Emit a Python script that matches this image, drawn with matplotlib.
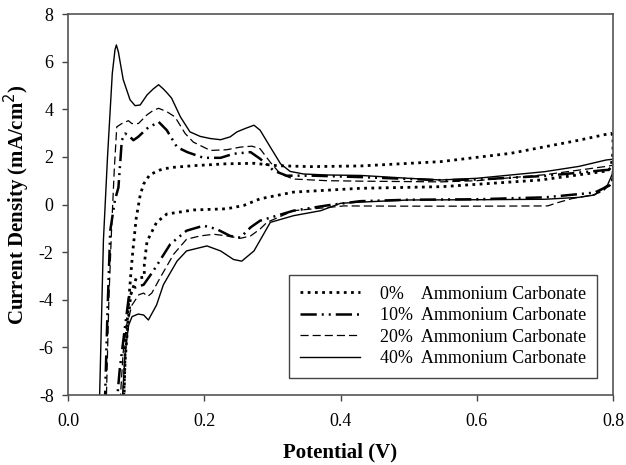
import matplotlib
matplotlib.use("Agg")
import matplotlib.pyplot as plt

plt.rcParams['font.family'] = ['Liberation Serif', 'DejaVu Serif']
plt.rcParams['axes.unicode_minus'] = False

# cyclic voltammograms, potential (V) vs current density (mA/cm2)
v_0 = [0.082, 0.084, 0.088, 0.092, 0.095, 0.100, 0.106, 0.111, 0.120, 0.135, 0.150, 0.184,
       0.233, 0.273, 0.307, 0.356, 0.430, 0.547, 0.650, 0.750, 0.797, 0.800,
       0.800, 0.797, 0.792, 0.694, 0.550, 0.429, 0.331, 0.282, 0.258, 0.233, 0.184,
       0.145, 0.130, 0.116, 0.112, 0.112, 0.100, 0.092, 0.088, 0.084, 0.081]
i_0 = [-8.5, -6.0, -4.5, -3.0, -2.0, -0.6, 0.4, 0.86, 1.25, 1.45, 1.55, 1.63,
       1.71, 1.73, 1.63, 1.59, 1.62, 1.80, 2.15, 2.70, 2.99, 2.90,
       2.20, 1.55, 1.41, 1.03, 0.75, 0.68, 0.52, 0.24, -0.04, -0.18, -0.23,
       -0.40, -0.75, -1.55, -2.50, -3.05, -3.10, -3.80, -5.00, -6.50, -8.5]

v_10 = [0.054, 0.058, 0.062, 0.069, 0.074, 0.079, 0.084, 0.091, 0.096, 0.103, 0.116, 0.133,
        0.145, 0.160, 0.175, 0.199, 0.224, 0.243, 0.268, 0.282, 0.302, 0.321, 0.360, 0.430,
        0.547, 0.600, 0.700, 0.790, 0.800,
        0.800, 0.795, 0.773, 0.700, 0.600, 0.500, 0.429, 0.380, 0.331, 0.282, 0.268, 0.253,
        0.238, 0.218, 0.199, 0.174, 0.150, 0.125, 0.111, 0.096, 0.089, 0.084, 0.076, 0.071]
i_10 = [-8.5, -4.5, -1.1, 0.2, 0.71, 2.70, 2.98, 2.84, 2.70, 2.84, 3.19, 3.47,
        3.12, 2.41, 2.20, 1.96, 1.96, 2.13, 2.20, 1.92, 1.42, 1.21, 1.21, 1.15,
        1.02, 1.05, 1.20, 1.45, 1.45,
        1.10, 0.80, 0.50, 0.30, 0.22, 0.20, 0.14, -0.04, -0.26, -0.68, -0.96, -1.39,
        -1.32, -1.03, -0.89, -1.10, -1.67, -2.80, -3.37, -3.51, -3.94, -5.07, -6.91, -8.5]

v_20 = [0.056, 0.060, 0.064, 0.068, 0.0716, 0.079, 0.0887, 0.0936, 0.1034, 0.1157, 0.125,
        0.133, 0.145, 0.157, 0.172, 0.184, 0.209, 0.233, 0.253, 0.270, 0.282, 0.297, 0.312,
        0.331, 0.380, 0.430, 0.547, 0.600, 0.700, 0.790, 0.800,
        0.800, 0.797, 0.785, 0.770, 0.740, 0.719, 0.704, 0.600, 0.500, 0.405, 0.331, 0.292,
        0.282, 0.268, 0.253, 0.233, 0.214, 0.194, 0.174, 0.155, 0.135, 0.123, 0.117, 0.111,
        0.104, 0.094, 0.086, 0.081, 0.076]
i_20 = [-8.5, -4.0, -1.0, 1.5, 3.26, 3.40, 3.52, 3.40, 3.40, 3.76, 3.95,
        4.04, 3.90, 3.68, 2.98, 2.62, 2.27, 2.30, 2.41, 2.45, 2.34, 1.77, 1.28,
        1.07, 1.00, 0.98, 0.95, 1.00, 1.25, 1.60, 1.65,
        1.20, 0.90, 0.55, 0.40, 0.25, 0.08, -0.06, -0.07, -0.07, -0.06, -0.26, -0.75,
        -1.03, -1.32, -1.42, -1.32, -1.25, -1.32, -1.46, -2.09, -3.09, -3.72, -3.86, -3.72,
        -3.79, -4.22, -5.07, -6.20, -8.5]

v_40 = [0.046, 0.052, 0.058, 0.065, 0.069, 0.071, 0.074, 0.081, 0.091, 0.0985, 0.106, 0.116,
        0.125, 0.133, 0.140, 0.145, 0.152, 0.165, 0.179, 0.194, 0.209, 0.224, 0.238, 0.248,
        0.260, 0.273, 0.282, 0.297, 0.312, 0.326, 0.346, 0.380, 0.430, 0.500, 0.547, 0.600,
        0.700, 0.750, 0.790, 0.800,
        0.800, 0.799, 0.792, 0.773, 0.750, 0.700, 0.600, 0.500, 0.429, 0.400, 0.371, 0.331,
        0.297, 0.287, 0.273, 0.255, 0.243, 0.224, 0.204, 0.194, 0.174, 0.160, 0.140, 0.130,
        0.118, 0.111, 0.103, 0.094, 0.089, 0.084, 0.079]
i_40 = [-8.5, -1.5, 2.0, 5.5, 6.5, 6.70, 6.40, 5.25, 4.40, 4.15, 4.18, 4.60,
        4.85, 5.03, 4.85, 4.70, 4.47, 3.68, 3.05, 2.86, 2.77, 2.72, 2.84, 3.05,
        3.19, 3.33, 3.12, 2.41, 1.71, 1.39, 1.28, 1.24, 1.22, 1.10, 1.03, 1.10,
        1.38, 1.60, 1.87, 1.90,
        1.50, 1.28, 0.82, 0.40, 0.30, 0.22, 0.20, 0.19, 0.10, 0.05, -0.26, -0.47,
        -0.75, -1.25, -1.95, -2.38, -2.31, -1.95, -1.74, -1.81, -1.95, -2.38, -3.37, -4.22,
        -4.85, -4.64, -4.60, -4.71, -5.07, -6.20, -8.5]

labels = ['0%    Ammonium Carbonate', '10%  Ammonium Carbonate',
          '20%  Ammonium Carbonate', '40%  Ammonium Carbonate']

fig, ax = plt.subplots(figsize=(6.26, 4.65), dpi=100)
fig.subplots_adjust(left=68/626, right=613/626, top=1-14/465, bottom=1-395/465)

ax.plot(v_0, i_0, color='black', lw=2.0, linestyle=(0, (1, 1.6)), label=labels[0])
ax.plot(v_10, i_10, color='black', lw=1.8, linestyle=(0, (6.5, 2, 0.8, 2, 0.8, 2)),
        label=labels[1])
ax.plot(v_20, i_20, color='black', lw=0.9, linestyle=(0, (6.5, 3.2)), label=labels[2])
ax.plot(v_40, i_40, color='black', lw=1.0, linestyle='-', label=labels[3])

ax.set_xlim(0, 0.8)
ax.set_ylim(-8, 8)
ax.set_xticks([0.0, 0.2, 0.4, 0.6, 0.8])
ax.set_xticklabels(['0.0', '0.2', '0.4', '0.6', '0.8'])
ax.set_yticks(range(-8, 9, 2))
ax.tick_params(direction='out', length=4.3, width=1, labelsize=13, color='#444444')
ax.tick_params(axis='x', pad=9)
ax.tick_params(axis='y', pad=6)
for s in ax.spines.values():
    s.set_color('#555555')
    s.set_linewidth(1.2)

ax.set_xlabel('Potential (V)', fontsize=15, fontweight='bold', labelpad=9)
ax.set_ylabel('Current Density (mA/cm$^2$)', fontsize=15, fontweight='bold', labelpad=5)

leg = ax.legend(loc='lower right', bbox_to_anchor=((597-68)/545, (395-378)/381),
                borderaxespad=0, fontsize=13, handlelength=3.35, handletextpad=1.1,
                labelspacing=0.25, borderpad=0.6, fancybox=False, framealpha=1)
leg.get_frame().set_edgecolor('#444444')
leg.get_frame().set_linewidth(1.0)

fig.savefig('out.png', dpi=100)
